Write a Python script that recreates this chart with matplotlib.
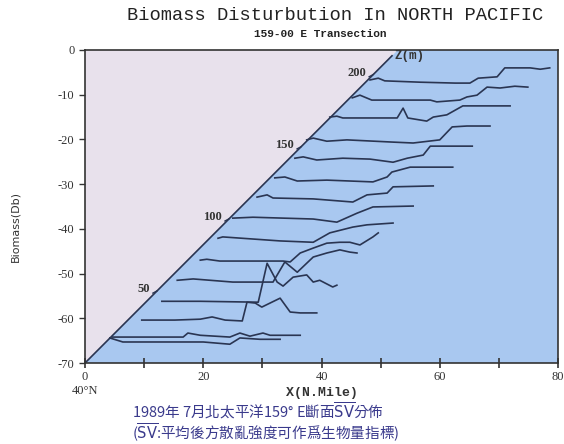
import matplotlib.pyplot as plt

# --- chart text ---
TITLE = 'Biomass Disturbution In NORTH PACIFIC'
SUBTITLE = '159-00 E Transection'
Y_LABEL = 'Biomass(Db)'
X_LABEL = 'X(N.Mile)'
CAPTION_1 = r'1989年 7月北太平洋159° E斷面$\overline{\mathrm{SV}}$分佈'
CAPTION_2 = r'($\overline{\mathrm{SV}}$:平均後方散亂強度可作爲生物量指標)'

x_ticks = [0, 20, 40, 60, 80]
y_ticks = [0, -10, -20, -30, -40, -50, -60, -70]
depth_labels = [50, 100, 150, 200]
depth_max = 217     # depth (m) where the Z axis meets the top of the plot
z_top = 213         # where the drawn Z axis ends

# --- traces (x in N.Mile, y in Db, already offset) ---
trace_x = [
    [48.2, 49.6, 50.7, 56.7, 62.6, 65.1, 66.5, 69.7, 71.0, 75.3, 77.0, 78.6],
    [45.2, 46.5, 48.5, 58.4, 59.5, 63.4, 64.6, 66.3, 68.0, 70.2, 72.7, 74.9],
    [41.4, 42.6, 43.6, 52.8, 53.8, 54.6, 57.8, 58.9, 61.2, 63.9, 71.9],
    [37.5, 38.6, 40.9, 44.3, 52.1, 55.5, 60.0, 62.1, 64.6, 68.5],
    [35.5, 36.9, 39.2, 43.6, 48.2, 52.1, 54.5, 57.2, 58.4, 65.5],
    [32.1, 33.8, 35.9, 40.9, 48.7, 51.1, 51.9, 55.0, 62.2],
    [29.1, 30.8, 31.8, 38.6, 45.3, 47.7, 51.1, 52.1, 58.9],
    [25.0, 28.4, 38.6, 42.6, 46.0, 48.7, 55.5],
    [22.5, 23.3, 33.0, 38.6, 41.4, 45.3, 47.7, 52.1],
    [19.5, 20.6, 22.8, 33.5, 34.7, 36.4, 38.6, 40.9, 43.1, 44.8, 46.5, 48.7, 49.6],
    [15.6, 18.3, 25.0, 31.8, 33.8, 35.9, 38.6, 40.9, 43.1, 44.8, 46.0],
    [13.0, 19.5, 29.3, 30.8, 32.5, 33.5, 35.2, 37.5, 38.6, 39.7, 41.9, 42.6],
    [9.6, 15.2, 19.5, 21.5, 23.7, 26.6, 27.4, 28.8, 29.9, 31.6, 33.0, 34.7, 36.4, 39.2],
    [4.2, 6.4, 12.7, 20.0, 24.5, 26.2, 29.6, 33.0],
    [4.6, 11.0, 16.6, 17.4, 19.5, 22.0, 24.5, 26.2, 27.9, 30.1, 31.3, 36.4],
]
trace_y = [
    [-6.7, -6.3, -6.9, -7.2, -7.4, -7.4, -6.3, -6.0, -4.0, -4.0, -4.3, -4.0],
    [-10.7, -10.1, -11.2, -11.2, -11.6, -11.2, -10.5, -10.1, -8.3, -8.5, -8.1, -8.3],
    [-15.0, -14.8, -15.2, -15.2, -13.0, -15.2, -15.9, -15.0, -14.5, -12.5, -12.5],
    [-20.1, -19.7, -20.4, -20.1, -20.6, -20.8, -20.1, -17.2, -17.0, -17.0],
    [-24.2, -23.9, -24.6, -24.2, -24.4, -25.1, -24.2, -23.5, -21.5, -21.5],
    [-28.6, -28.4, -29.3, -29.1, -29.5, -28.4, -27.3, -26.2, -26.2],
    [-32.9, -32.4, -33.1, -33.3, -34.0, -32.4, -32.0, -30.6, -30.4],
    [-37.6, -37.4, -37.8, -38.5, -36.5, -35.1, -34.9],
    [-42.1, -41.8, -42.7, -43.0, -40.9, -39.6, -39.1, -38.7],
    [-47.0, -46.8, -47.2, -47.2, -47.4, -45.4, -44.3, -43.2, -43.0, -43.0, -43.6, -41.8, -40.9],
    [-51.5, -51.2, -51.9, -51.9, -47.4, -49.7, -46.3, -45.4, -44.7, -45.2, -45.4],
    [-56.2, -56.2, -56.4, -47.7, -51.9, -52.8, -50.8, -50.3, -51.9, -51.5, -53.0, -52.6],
    [-60.4, -60.4, -60.2, -59.7, -60.4, -60.6, -56.4, -56.6, -57.5, -56.4, -55.5, -58.6, -58.8, -58.8],
    [-64.4, -65.3, -65.3, -65.3, -65.8, -64.4, -64.7, -64.7],
    [-64.2, -64.2, -64.2, -63.3, -63.8, -64.0, -64.2, -63.3, -64.0, -63.3, -63.8, -63.8],
]

LAVENDER = '#e8e1ec'
BLUE = '#a9c8f0'
INK = '#2a3552'
CAPTION_COLOR = '#3a3a8c'
SERIF = 'Liberation Serif'

fig = plt.figure(figsize=(5.64, 4.44), dpi=100)
ax = fig.add_axes([85 / 564, 1 - 363 / 444, 473 / 564, 313 / 444])
xmin, xmax = 0, 80
ymin, ymax = -70, 0
ax.set_xlim(xmin, xmax)
ax.set_ylim(ymin, ymax)

# pseudo-3D depth axis running from the origin up to the top edge
x_diag_top = 52.9


def depth_point(z):
    return x_diag_top * z / depth_max, ymin + (ymax - ymin) * z / depth_max


ax.fill([xmin, xmin, x_diag_top], [ymin, ymax, ymax], color=LAVENDER, lw=0, zorder=0)
ax.fill([xmin, x_diag_top, xmax, xmax], [ymin, ymax, ymax, ymin], color=BLUE, lw=0, zorder=0)
xe, ye = depth_point(z_top)
ax.plot([xmin, xe], [ymin, ye], color=INK, lw=1.2, zorder=2)

for z in depth_labels:
    xz, yz = depth_point(z)
    ax.plot([xz - 0.7, xz], [yz - 0.5, yz], color=INK, lw=1.0, zorder=2)
    ax.annotate(str(z), (xz, yz), xytext=(-5, 1), textcoords='offset points',
                ha='right', va='center', fontsize=9, family=SERIF,
                fontweight='bold', color='#333333')
ax.annotate('Z(m)', (xe, ye), xytext=(2, 0), textcoords='offset points',
            ha='left', va='center', fontsize=9, family='Liberation Mono',
            fontweight='bold', color='#333333')

for xs, ys in zip(trace_x, trace_y):
    ax.plot(xs, ys, color=INK, lw=1.2, zorder=3)

# axes styling
for side in ['left', 'bottom', 'top', 'right']:
    ax.spines[side].set_color('#333333')
    ax.spines[side].set_linewidth(1.2)
ax.set_xticks(x_ticks)
ax.set_xticks([10, 30, 50, 70], minor=True)
ax.set_xticklabels([str(v) for v in x_ticks], family=SERIF, fontsize=9, color='#333333')
ax.set_yticks(y_ticks)
ax.set_yticklabels([str(v) for v in y_ticks], family=SERIF, fontsize=9, color='#333333')
ax.tick_params(axis='x', which='both', direction='inout', length=7, width=1.2,
               color='#333333', pad=2)
ax.tick_params(axis='y', direction='out', length=4, width=1.0, color='#333333')

ax.text(0, -0.07, '40°N', transform=ax.transAxes, ha='center', va='top',
        fontsize=9, family=SERIF, color='#333333')
ax.text(0.5, -0.078, X_LABEL, transform=ax.transAxes, ha='center', va='top',
        fontsize=9.5, family='Liberation Mono', fontweight='bold', color='#333333')

fig.text(0.027, 0.49, Y_LABEL, rotation=90, ha='center', va='center',
         fontsize=8, family='DejaVu Sans', color='#333333')
fig.text(335 / 564, 1 - 16 / 444, TITLE, ha='center', va='center',
         fontsize=13.5, family='Liberation Mono', color='#222222')
fig.text(320 / 564, 1 - 34 / 444, SUBTITLE, ha='center', va='center',
         fontsize=8, family='Liberation Mono', fontweight='bold', color='#222222')

fig.text(132 / 564, 1 - 411 / 444, CAPTION_1, ha='left', va='center',
         fontsize=10.5, family='Noto Sans CJK TC', color=CAPTION_COLOR)
fig.text(132 / 564, 1 - 433 / 444, CAPTION_2, ha='left', va='center',
         fontsize=10.5, family='Noto Sans CJK TC', color=CAPTION_COLOR)

fig.savefig('out.png', dpi=100)
